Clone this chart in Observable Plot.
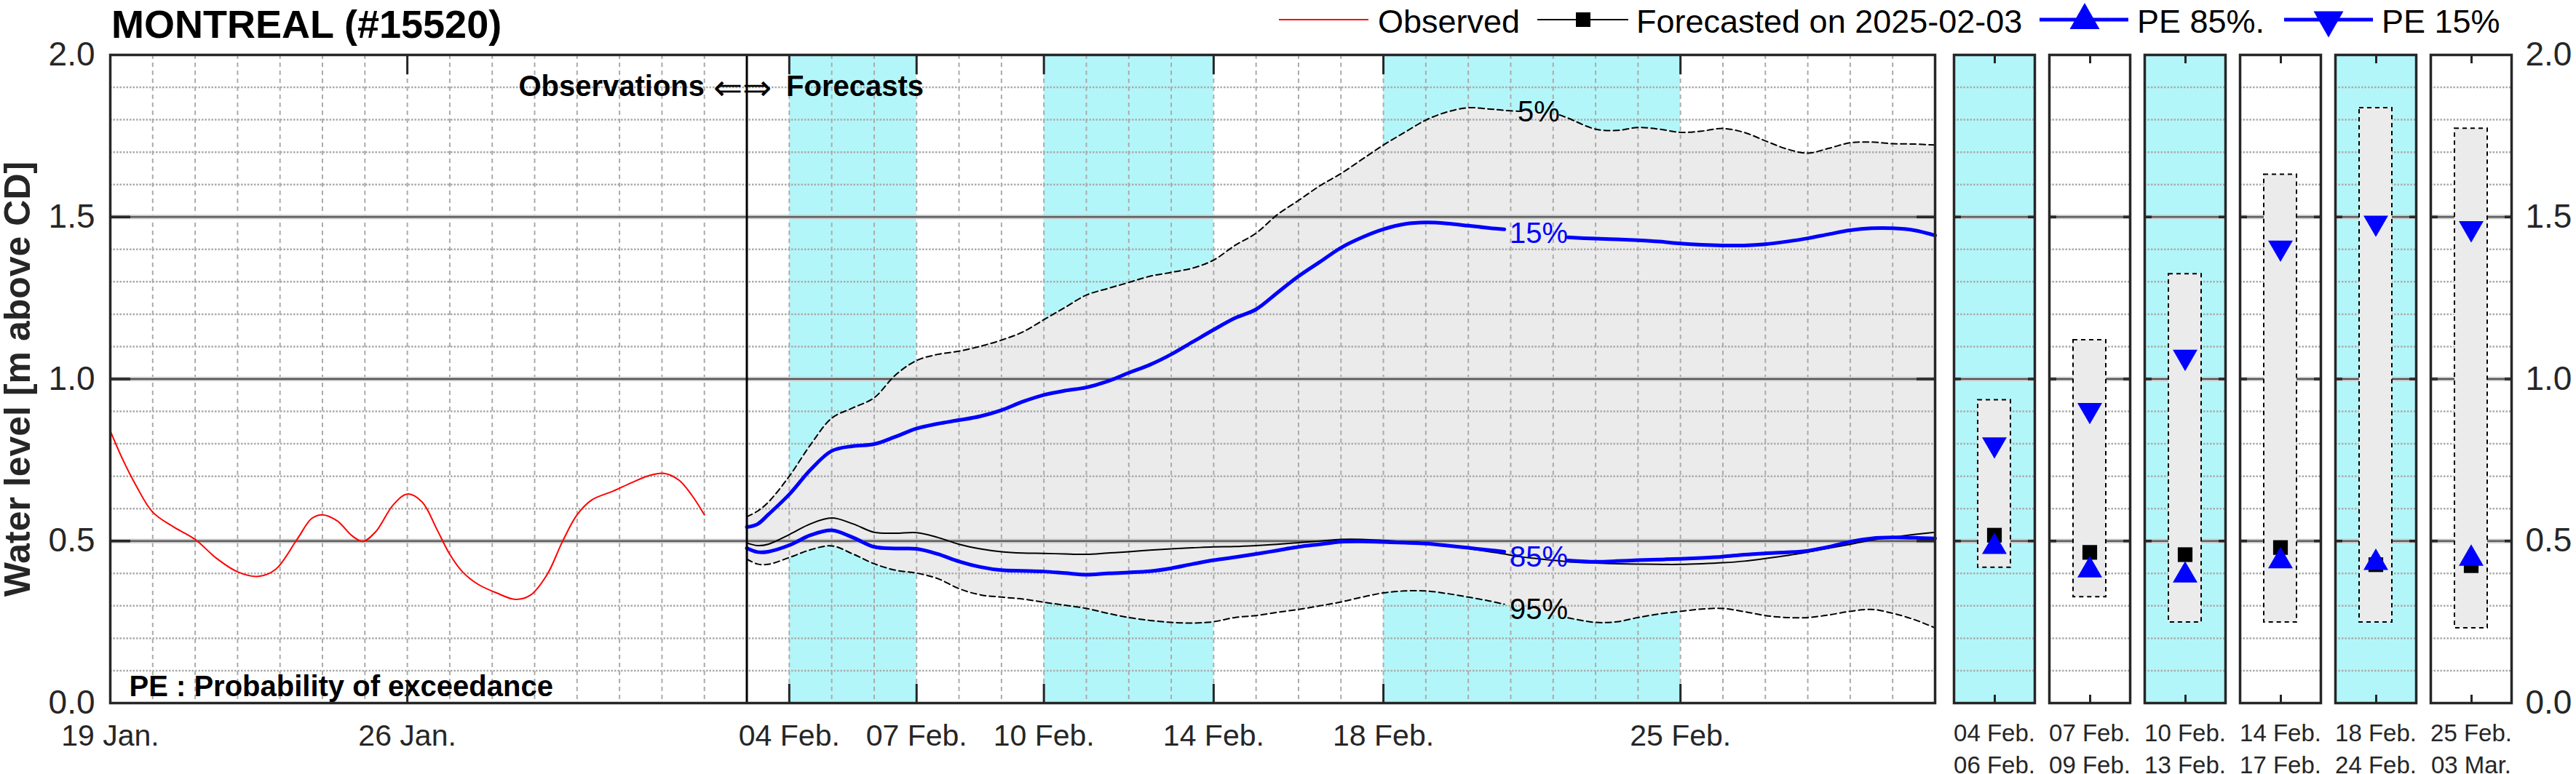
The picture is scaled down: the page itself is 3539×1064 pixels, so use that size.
<!DOCTYPE html>
<html>
<head>
<meta charset="utf-8">
<script src="https://cdn.jsdelivr.net/npm/d3@7"></script>
<script src="https://cdn.jsdelivr.net/npm/@observablehq/plot@0.6"></script>
<style>
  html, body { margin: 0; padding: 0; background: #fff; }
  #root { position: relative; width: 3539px; height: 1064px; overflow: hidden; background: #fff;
          font-family: "Liberation Sans", Arial, Helvetica, sans-serif; color: #262626; }
  #main, #side, #overlay { position: absolute; top: 0; }
  #main { left: 0; width: 2660px; height: 1064px; }
  #side { left: 2660px; width: 879px; height: 1064px; }
  #overlay { left: 0; pointer-events: none; }
</style>
</head>
<body>
<div id="root">
  <div id="main"></div>
  <div id="side"></div>
  <svg id="overlay" width="3539" height="70"></svg>
</div>
<script>
// ---------------- DATA ----------------
const stationTitle = "MONTREAL (#15520)";
const startDate = "2025-01-19";
const endDate = "2025-03-03";
const forecastDate = "2025-02-03";

// observed water level (days after startDate, m above CD)
const obsDays = [0, 0.3, 0.6, 1.0, 1.5, 2.0, 2.5, 3.0, 3.5, 3.9, 4.4, 4.75, 5.0, 5.35, 5.7, 5.95, 6.25, 6.67, 7.0, 7.35, 7.7, 8.0, 8.3, 8.66, 9.1, 9.55, 9.9, 10.3, 10.65, 11.0, 11.35, 11.85, 12.3, 12.7, 13.05, 13.4, 13.7, 14.0];
const obsLevels = [0.84, 0.75, 0.673, 0.589, 0.543, 0.505, 0.447, 0.405, 0.391, 0.413, 0.505, 0.570, 0.581, 0.562, 0.516, 0.499, 0.528, 0.612, 0.645, 0.620, 0.535, 0.459, 0.405, 0.367, 0.340, 0.320, 0.333, 0.398, 0.497, 0.581, 0.627, 0.654, 0.681, 0.702, 0.709, 0.688, 0.642, 0.581];

// forecast (days after startDate)
const fcDays = [15, 15.25, 15.5, 16, 16.5, 17, 17.5, 18, 18.5, 19, 19.5, 20, 20.5, 21, 21.5, 22, 22.5, 23, 23.5, 24, 24.5, 25, 25.5, 26, 26.5, 27, 27.5, 28, 28.5, 29, 29.5, 30, 30.5, 31, 31.5, 32, 32.5, 32.85, 33.2, 33.5, 34.15, 34.35, 35, 35.5, 36, 36.5, 37, 37.5, 38, 38.5, 39, 39.5, 40, 40.5, 41, 41.5, 42, 42.5, 43];
const pe5 = [0.575, 0.592, 0.619, 0.700, 0.797, 0.879, 0.911, 0.942, 1.012, 1.057, 1.076, 1.086, 1.101, 1.120, 1.145, 1.183, 1.221, 1.259, 1.279, 1.298, 1.317, 1.329, 1.342, 1.367, 1.412, 1.450, 1.507, 1.551, 1.596, 1.634, 1.678, 1.722, 1.761, 1.799, 1.824, 1.837, 1.833, 1.829, 1.826, 1.823, 1.815, 1.805, 1.771, 1.767, 1.776, 1.771, 1.761, 1.765, 1.773, 1.761, 1.735, 1.710, 1.697, 1.712, 1.729, 1.731, 1.726, 1.725, 1.722];
const pe15 = [0.543, 0.552, 0.581, 0.644, 0.720, 0.778, 0.793, 0.799, 0.822, 0.847, 0.862, 0.873, 0.885, 0.904, 0.930, 0.951, 0.964, 0.974, 0.993, 1.019, 1.044, 1.076, 1.114, 1.152, 1.188, 1.215, 1.266, 1.317, 1.361, 1.405, 1.437, 1.462, 1.478, 1.483, 1.480, 1.473, 1.466, 1.462, 1.457, 1.450, 1.440, 1.437, 1.433, 1.431, 1.428, 1.424, 1.418, 1.414, 1.412, 1.412, 1.416, 1.424, 1.434, 1.447, 1.459, 1.465, 1.465, 1.459, 1.443];
const fcLevels = [0.494, 0.486, 0.490, 0.520, 0.553, 0.571, 0.553, 0.527, 0.524, 0.526, 0.511, 0.490, 0.476, 0.467, 0.463, 0.462, 0.460, 0.459, 0.463, 0.467, 0.472, 0.476, 0.479, 0.482, 0.483, 0.486, 0.490, 0.495, 0.500, 0.505, 0.505, 0.502, 0.498, 0.494, 0.486, 0.477, 0.467, 0.460, 0.452, 0.447, 0.439, 0.436, 0.432, 0.430, 0.429, 0.428, 0.428, 0.430, 0.433, 0.438, 0.446, 0.455, 0.466, 0.478, 0.490, 0.503, 0.512, 0.520, 0.527];
const pe85 = [0.478, 0.466, 0.467, 0.487, 0.518, 0.533, 0.511, 0.482, 0.477, 0.476, 0.460, 0.437, 0.420, 0.410, 0.408, 0.406, 0.401, 0.396, 0.400, 0.403, 0.407, 0.416, 0.429, 0.441, 0.450, 0.460, 0.471, 0.482, 0.490, 0.498, 0.499, 0.497, 0.495, 0.492, 0.486, 0.479, 0.472, 0.467, 0.460, 0.455, 0.443, 0.440, 0.436, 0.438, 0.441, 0.443, 0.445, 0.448, 0.452, 0.458, 0.462, 0.465, 0.470, 0.482, 0.498, 0.508, 0.511, 0.510, 0.508];
const pe95 = [0.444, 0.429, 0.428, 0.449, 0.473, 0.485, 0.460, 0.430, 0.410, 0.401, 0.384, 0.353, 0.334, 0.327, 0.321, 0.311, 0.302, 0.292, 0.277, 0.264, 0.255, 0.249, 0.247, 0.251, 0.264, 0.270, 0.280, 0.289, 0.300, 0.312, 0.327, 0.340, 0.346, 0.346, 0.338, 0.327, 0.315, 0.305, 0.293, 0.284, 0.268, 0.263, 0.249, 0.251, 0.264, 0.275, 0.283, 0.290, 0.292, 0.282, 0.270, 0.264, 0.264, 0.272, 0.283, 0.289, 0.277, 0.258, 0.232];

// curve labels
const curveLabelText = ["5%", "15%", "85%", "95%"];
const curveLabelKey = ["p5", "p15", "p85", "p95"];
const curveLabelDay = [33.66, 33.66, 33.66, 33.66];
const curveLabelLevel = [1.823, 1.448, 0.450, 0.287];
const curveLabelColor = ["black", "blue", "blue", "black"];
const curveGapStart = [33.2, 32.85, 32.85, 32.85];
const curveGapEnd = [34.15, 34.35, 34.35, 34.35];

// axes
const xTickDates = ["2025-01-19", "2025-01-26", "2025-02-04", "2025-02-07", "2025-02-10", "2025-02-14", "2025-02-18", "2025-02-25"];
const yTicks = [0, 0.5, 1, 1.5, 2];
const yMajorGrid = [0.5, 1, 1.5];
const yMinorGrid = [0.1, 0.2, 0.3, 0.4, 0.6, 0.7, 0.8, 0.9, 1.1, 1.2, 1.3, 1.4, 1.6, 1.7, 1.8, 1.9];
const yTitle = "Water level [m above CD]";

// highlighted (cyan) periods in the main panel
const bandStarts = ["2025-02-04", "2025-02-10", "2025-02-18"];
const bandEnds = ["2025-02-07", "2025-02-14", "2025-02-25"];

// period summaries (small panels)
const periodLabels = ["04 Feb.\n06 Feb.", "07 Feb.\n09 Feb.", "10 Feb.\n13 Feb.", "14 Feb.\n17 Feb.", "18 Feb.\n24 Feb.", "25 Feb.\n03 Mar."];
const periodCyan = [true, false, true, false, true, false];
const periodP5 = [0.935, 1.120, 1.324, 1.631, 1.836, 1.773];
const periodP15 = [0.788, 0.894, 1.058, 1.395, 1.472, 1.455];
const periodFc = [0.518, 0.465, 0.458, 0.480, 0.427, 0.424];
const periodP85 = [0.492, 0.420, 0.404, 0.448, 0.443, 0.456];
const periodP95 = [0.418, 0.327, 0.249, 0.249, 0.249, 0.231];

// legend
const legendLabels = ["Observed", "Forecasted on 2025-02-03", "PE 85%.", "PE 15%"];

// ---------------- STYLE ----------------
const FONT = '"Liberation Sans", Arial, Helvetica, sans-serif';
const INK = "#262626";
const CYAN = "#b3f6fa";
const ENVELOPE = "#ebebeb";
const GRID = "#ababab";
const BLUE = "#0000ff";
const RED = "#ff0000";

// ---------------- TABLES ----------------
const t0 = Date.parse(startDate);
const toDate = d => new Date(t0 + d * 864e5);
const obs = obsDays.map((d, i) => ({t: toDate(d), v: obsLevels[i]}));
const fc = fcDays.map((d, i) => ({t: toDate(d), day: d, p5: pe5[i], p15: pe15[i], fc: fcLevels[i], p85: pe85[i], p95: pe95[i]}));
const bands = bandStarts.map((s, i) => ({x1: new Date(s), x2: new Date(bandEnds[i])}));
const curveLabels = curveLabelText.map((s, i) => ({text: s, t: toDate(curveLabelDay[i]), y: curveLabelLevel[i], color: curveLabelColor[i]}));
const gapped = key => {
  const i = curveLabelKey.indexOf(key);
  return d => (d.day > curveGapStart[i] && d.day < curveGapEnd[i]) ? NaN : d[key];
};
const xTicks = xTickDates.map(s => new Date(s));
const dailyGrid = d3.utcDay.range(new Date(startDate), new Date(endDate)).slice(1);
const periods = periodLabels.map((label, i) => ({label, cyan: periodCyan[i], p5: periodP5[i], p15: periodP15[i], fc: periodFc[i], p85: periodP85[i], p95: periodP95[i]}));

const gridMarks = () => [
  Plot.gridY(yMinorGrid, {stroke: GRID, strokeOpacity: 1, strokeWidth: 2.5, strokeDasharray: "2.5,2"}),
  Plot.ruleY(yMajorGrid, {stroke: "#c6c6c6", strokeWidth: 6}),
  Plot.ruleY(yMajorGrid, {stroke: "#4d4d4d", strokeWidth: 2})
];

// ---------------- MAIN PANEL ----------------
const main = Plot.plot({
  width: 2660, height: 1064,
  marginLeft: 151, marginRight: 2, marginTop: 75, marginBottom: 98,
  x: {type: "utc", domain: [new Date(startDate), new Date(endDate)], label: null},
  y: {domain: [0, 2], label: null},
  style: {fontFamily: FONT, color: INK, background: "transparent", overflow: "visible", maxWidth: "none"},
  marks: [
    Plot.rect(bands, {x1: "x1", x2: "x2", fill: CYAN}),
    Plot.areaY(fc, {x: "t", y1: "p95", y2: "p5", fill: ENVELOPE, curve: "catmull-rom"}),
    Plot.gridX(dailyGrid, {stroke: GRID, strokeOpacity: 1, strokeWidth: 2, strokeDasharray: "6,5"}),
    ...gridMarks(),
    Plot.line(fc, {x: "t", y: gapped("p5"), stroke: "black", strokeWidth: 2, strokeDasharray: "8,5", curve: "catmull-rom"}),
    Plot.line(fc, {x: "t", y: gapped("p95"), stroke: "black", strokeWidth: 2, strokeDasharray: "8,5", curve: "catmull-rom"}),
    Plot.line(fc, {x: "t", y: "fc", stroke: "black", strokeWidth: 2, curve: "catmull-rom"}),
    Plot.line(fc, {x: "t", y: gapped("p85"), stroke: BLUE, strokeWidth: 5, curve: "catmull-rom"}),
    Plot.line(fc, {x: "t", y: gapped("p15"), stroke: BLUE, strokeWidth: 5, curve: "catmull-rom"}),
    Plot.line(obs, {x: "t", y: "v", stroke: RED, strokeWidth: 2, curve: "catmull-rom"}),
    Plot.ruleX([forecastDate], {x: d => new Date(d), stroke: "black", strokeWidth: 3}),
    Plot.text(curveLabels, {x: "t", y: "y", text: "text", fill: "color", fontSize: 40}),
    Plot.text(["Observations"], {x: () => new Date(forecastDate), text: d => d, frameAnchor: "top", dy: 28, dx: -58, textAnchor: "end", fontWeight: "bold", fontSize: 40, fill: "black"}),
    Plot.text(["\u21D0\u21D2"], {x: () => new Date(forecastDate), text: d => d, frameAnchor: "top", dy: 27, dx: -6, textAnchor: "middle", fontSize: 48, fill: "black"}),
    Plot.text(["Forecasts"], {x: () => new Date(forecastDate), text: d => d, frameAnchor: "top", dy: 28, dx: 54, textAnchor: "start", fontWeight: "bold", fontSize: 40, fill: "black"}),
    Plot.text(["PE : Probability of exceedance"], {text: d => d, frameAnchor: "bottom-left", dx: 26, dy: -10, textAnchor: "start", lineAnchor: "bottom", fontWeight: "bold", fontSize: 40, fill: "black"}),
    // tick marks (inside)
    Plot.axisX({anchor: "bottom", ticks: xTicks, tickSize: 26, dy: -26, fill: "none", label: null, stroke: INK, strokeWidth: 3}),
    Plot.axisX({anchor: "top", ticks: xTicks, tickSize: 26, dy: 26, fill: "none", label: null, stroke: INK, strokeWidth: 3}),
    Plot.axisY({anchor: "left", ticks: yMajorGrid, tickSize: 28, dx: 28, fill: "none", label: null, stroke: INK, strokeWidth: 3.5}),
    Plot.axisY({anchor: "right", ticks: yMajorGrid, tickSize: 26, dx: -26, fill: "none", label: null, stroke: INK, strokeWidth: 3.5}),
    // tick labels
    Plot.axisX({anchor: "bottom", ticks: xTicks, tickSize: 0, tickPadding: 29, tickFormat: d3.utcFormat("%d %b."), fontSize: 41, label: null, fill: INK}),
    Plot.axisY({anchor: "left", ticks: yTicks, tickSize: 0, tickPadding: 21, tickFormat: ".1f", fontSize: 46, label: null, fill: INK}),
    Plot.axisY({anchor: "left", ticks: [], tickSize: 0, label: yTitle, labelAnchor: "center", labelArrow: "none", labelOffset: 146, fontSize: 50, fontWeight: "bold", fill: INK}),
    Plot.frame({stroke: INK, strokeWidth: 3.5})
  ]
});
document.getElementById("main").appendChild(main);

// ---------------- PERIOD PANELS ----------------
const side = Plot.plot({
  width: 879, height: 1064,
  marginLeft: 23, marginRight: 89, marginTop: 75, marginBottom: 98,
  fx: {domain: periodLabels, paddingInner: 20 / 131, paddingOuter: 0, label: null},
  x: {type: "point", domain: [0], label: null},
  y: {domain: [0, 2], label: null},
  style: {fontFamily: FONT, color: INK, background: "transparent", overflow: "visible", maxWidth: "none"},
  marks: [
    Plot.rect(periods.filter(d => d.cyan), {fx: "label", fill: CYAN}),
    ...gridMarks(),
    Plot.rect(periods, {fx: "label", y1: "p95", y2: "p5", fill: ENVELOPE, stroke: "black", strokeWidth: 2, strokeDasharray: "6,5", insetLeft: 33, insetRight: 33}),
    Plot.dot(periods, {fx: "label", y: "fc", symbol: "square", r: 11.4, fill: "black"}),
    Plot.dot(periods, {fx: "label", y: "p85", symbol: "triangle", r: 12.6, fill: BLUE, dy: 4.5}),
    Plot.dot(periods, {fx: "label", y: "p15", symbol: "triangle", rotate: 180, r: 12.6, fill: BLUE, dy: -4.5}),
    Plot.axisX({anchor: "bottom", ticks: [0], tickSize: 11, dy: -11, fill: "none", label: null, stroke: INK, strokeWidth: 3, facetAnchor: null}),
    Plot.axisX({anchor: "top", ticks: [0], tickSize: 11, dy: 11, fill: "none", label: null, stroke: INK, strokeWidth: 3, facetAnchor: null}),
    Plot.axisY({anchor: "left", ticks: yMajorGrid, tickSize: 10, dx: 10, fill: "none", label: null, stroke: INK, strokeWidth: 3.5, facetAnchor: null}),
    Plot.axisY({anchor: "right", ticks: yMajorGrid, tickSize: 10, dx: -10, fill: "none", label: null, stroke: INK, strokeWidth: 3.5, facetAnchor: null}),
    Plot.frame({stroke: INK, strokeWidth: 3.5}),
    Plot.axisY({anchor: "right", ticks: yTicks, tickSize: 0, tickPadding: 19, tickFormat: ".1f", fontSize: 46, label: null, fill: INK}),
    Plot.axisFx({anchor: "bottom", tickSize: 0, tickPadding: 21, fontSize: 33, lineHeight: 1.33, label: null, fill: INK})
  ]
});
document.getElementById("side").appendChild(side);

// ---------------- TITLE & LEGEND ----------------
const ov = d3.select("#overlay").style("font-family", FONT);
ov.append("text").attr("x", 153).attr("y", 52).attr("font-size", 54).attr("font-weight", "bold").attr("fill", "black").text(stationTitle);

const legendY = 27, textY = 45, fs = 45;
// Observed
ov.append("line").attr("x1", 1757).attr("x2", 1880).attr("y1", legendY).attr("y2", legendY).attr("stroke", RED).attr("stroke-width", 2);
ov.append("text").attr("x", 1893).attr("y", textY).attr("font-size", fs).attr("fill", "black").text(legendLabels[0]);
// Forecast
ov.append("line").attr("x1", 2112).attr("x2", 2237).attr("y1", legendY).attr("y2", legendY).attr("stroke", "black").attr("stroke-width", 2);
ov.append("rect").attr("x", 2165).attr("y", legendY - 10).attr("width", 20).attr("height", 20).attr("fill", "black");
ov.append("text").attr("x", 2248).attr("y", textY).attr("font-size", fs).attr("fill", "black").text(legendLabels[1]);
// PE 85%
ov.append("line").attr("x1", 2802).attr("x2", 2924).attr("y1", legendY).attr("y2", legendY).attr("stroke", BLUE).attr("stroke-width", 5);
ov.append("path").attr("d", "M2864,4 L2884.5,40 L2843.5,40 Z").attr("fill", BLUE);
ov.append("text").attr("x", 2936).attr("y", textY).attr("font-size", fs).attr("fill", "black").text(legendLabels[2]);
// PE 15%
ov.append("line").attr("x1", 3138).attr("x2", 3260).attr("y1", legendY).attr("y2", legendY).attr("stroke", BLUE).attr("stroke-width", 5);
ov.append("path").attr("d", "M3178.5,15.5 L3219.5,15.5 L3199,51.5 Z").attr("fill", BLUE);
ov.append("text").attr("x", 3272).attr("y", textY).attr("font-size", fs).attr("fill", "black").text(legendLabels[3]);
</script>
</body>
</html>
